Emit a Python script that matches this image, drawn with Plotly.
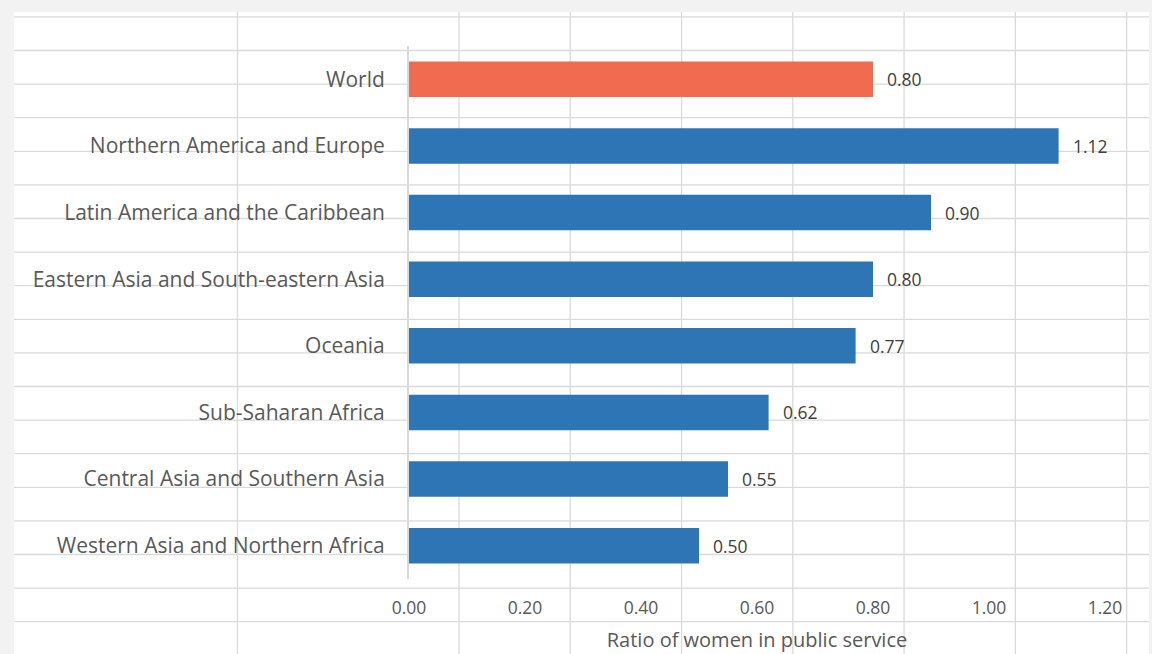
import plotly.graph_objects as go

# ---- data ----
regions = [
    "World",
    "Northern America and Europe",
    "Latin America and the Caribbean",
    "Eastern Asia and South-eastern Asia",
    "Oceania",
    "Sub-Saharan Africa",
    "Central Asia and Southern Asia",
    "Western Asia and Northern Africa",
]
ratios = [0.80, 1.12, 0.90, 0.80, 0.77, 0.62, 0.55, 0.50]
tick_vals = [0.0, 0.2, 0.4, 0.6, 0.8, 1.0, 1.2]
tick_text = ["0.00", "0.20", "0.40", "0.60", "0.80", "1.00", "1.20"]
x_title = "Ratio of women in public service"

# ---- styles ----
W, H = 1152, 654
ML, MR, MT, MB = 409, 47, 46, 75
PW, PH = W - ML - MR, H - MT - MB
ORANGE = "#F06B4F"
BLUE = "#2E75B6"
FONT = "Open Sans"
bar_colors = [ORANGE if r == "World" else BLUE for r in regions]

fig = go.Figure()
fig.add_trace(go.Bar(
    x=ratios, y=regions, orientation="h",
    marker=dict(color=bar_colors, line=dict(width=0)),
    hoverinfo="skip",
))

# value labels next to bar ends
for r, v in zip(regions, ratios):
    fig.add_annotation(
        x=v, y=r, xref="x", yref="y", text=f"{v:.2f}", showarrow=False,
        xanchor="left", xshift=12, font=dict(family=FONT, size=17.5, color="#404040"),
    )

# ---- spreadsheet-like background (decoration) ----
def px2x(px):
    return (px - ML) / PW

def py2y(py):
    return (H - MB - py) / PH

shapes = []
shapes.append(dict(type="rect", xref="paper", yref="paper", layer="below",
                   x0=px2x(14), x1=px2x(1149), y0=py2y(660), y1=py2y(12),
                   fillcolor="white", line=dict(width=0)))
grid_style = dict(color="#DADADA", width=1.3)
row_start, row_step = 16.9, 33.6
for k in range(19):
    py = row_start + k * row_step
    shapes.append(dict(type="line", xref="paper", yref="paper", layer="below",
                       x0=px2x(14), x1=px2x(1149), y0=py2y(py), y1=py2y(py), line=grid_style))
col_lines = [237.5] + [459 + k * 111.27 for k in range(7)]
for px in col_lines:
    shapes.append(dict(type="line", xref="paper", yref="paper", layer="below",
                       x0=px2x(px), x1=px2x(px), y0=py2y(12), y1=py2y(660), line=grid_style))

fig.update_layout(
    width=W, height=H,
    margin=dict(l=ML, r=MR, t=MT, b=MB, autoexpand=False),
    paper_bgcolor="#F2F2F2",
    plot_bgcolor="rgba(0,0,0,0)",
    showlegend=False,
    bargap=0.467,
    shapes=shapes,
    font=dict(family=FONT, color="#595959"),
    xaxis=dict(
        range=[0, 1.2], tickvals=tick_vals, ticktext=tick_text,
        showgrid=False, zeroline=False, showline=False, ticks="",
        ticklabelstandoff=16,
        tickfont=dict(family=FONT, size=17.5, color="#595959"),
        title=dict(text=x_title, standoff=15, font=dict(family=FONT, size=20, color="#595959")),
        fixedrange=True,
    ),
    yaxis=dict(
        autorange="reversed", showgrid=False, zeroline=False,
        showline=True, linecolor="#D9D9D9", linewidth=2, ticks="",
        ticklabelstandoff=18,
        tickfont=dict(family=FONT, size=21, color="#595959"),
        fixedrange=True,
    ),
)

fig.write_html("out.html", config={"displayModeBar": False},
               post_script="document.body.style.margin='0px';document.body.style.overflow='hidden';")
